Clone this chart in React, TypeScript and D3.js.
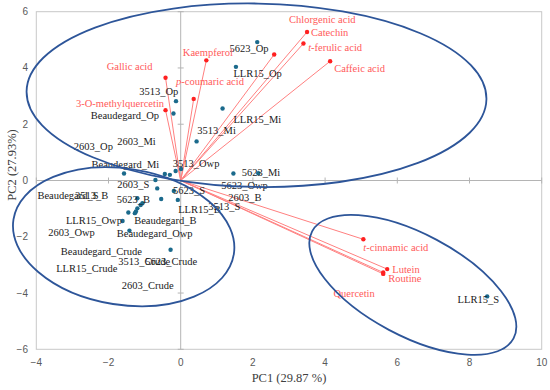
import React from "react";
import * as d3 from "d3";

const W = 550;
const H = 390;

// sample scores (PC1, PC2) and where each label was placed on the chart
const sampleNames = [
  "5623_Op", "LLR15_Op", "LLR15_Mi", "3513_Op", "Beaudegard_Op", "3513_Mi",
  "3513_Owp", "2603_Mi", "2603_Op", "LLR15_Crude", "Beaudegard_Mi", "5623_Mi",
  "5623_Owp", "2603_S", "2603_B", "5623_S", "3513_S", "LLR15_B", "5623_B",
  "Beaudegard_B", "3513_B", "Beaudegard_S", "2603_Owp", "Beaudegard_Crude",
  "3513_Crude", "LLR15_Owp", "Beaudegard_Owp", "5623_Crude", "LLR15_S", "2603_Crude",
];
const sampleX = [
  2.12, 1.53, 1.16, -0.13, -0.2, 0.44, 0.01, -0.14, -0.3, -0.44, -1.57, 1.46,
  2.15, -0.7, -0.65, -0.19, -0.54, -0.08, -1.2, -1.06, -1.11, -1.2, -1.24, -1.27,
  -1.45, -1.61, -1.42, -0.28, 8.49, null,
];
const sampleY = [
  4.92, 4.04, 2.56, 2.82, 2.38, 1.39, 0.41, 0.34, 0.2, 0.23, 0.25, 0.25,
  0.26, 0.02, -0.28, -0.37, -0.66, -0.69, -0.63, -0.81, -0.87, -0.99, -1.1, -1.16,
  -1.14, -1.44, -1.78, -2.46, -4.12, null,
];
const sampleLabelX = [
  1.35, 1.46, 1.46, -1.15, -2.49, 0.46, -0.22, -1.76, -2.96, -3.45, -2.47, 1.69,
  1.12, -1.76, 1.32, -0.21, 0.76, -0.07, -1.77, -1.29, -2.93, -3.97, -3.67, -3.32,
  -1.73, -3.18, -1.77, -0.98, 7.67, -1.63,
];
const sampleLabelY = [
  4.69, 3.82, 2.18, 3.18, 2.32, 1.79, 0.61, 1.41, 1.2, -3.11, 0.56, 0.28,
  -0.18, -0.12, -0.6, -0.36, -0.93, -1.02, -0.66, -1.4, -0.54, -0.54, -1.85, -2.52,
  -2.88, -1.43, -1.87, -2.88, -4.21, -3.71,
];

// phenolic loadings
const loadingNames = [
  "Gallic  acid", "3-O-methylquercetin", "p-coumaric acid", "Kaempferol",
  "Chlorgenic acid", "Catechin", "t-ferulic acid", "Caffeic acid",
  "t-cinnamic acid", "Lutein", "Routine", "Quercetin",
];
const loadingX = [-0.42, -0.42, 0.36, 0.71, 2.59, 3.5, 3.4, 4.14, 5.06, 5.72, 5.61, 5.61];
const loadingY = [3.65, 2.5, 2.9, 4.27, 4.48, 5.28, 4.87, 4.24, -2.09, -3.15, -3.27, -3.32];
const loadingLabelX = [-2.05, -2.9, -0.13, 0.06, 3.0, 3.61, 3.53, 4.25, 5.06, 5.86, 5.75, 4.23];
const loadingLabelY = [4.07, 2.74, 3.53, 4.57, 5.72, 5.26, 4.74, 3.98, -2.37, -3.14, -3.47, -4.0];

// group ellipses: centre, half axes (data units), tilt in degrees
const groupCx = [2.1, -1.58, 6.43];
const groupCy = [3.03, -2.0, -3.71];
const groupRx = [6.37, 3.09, 3.16];
const groupRy = [3.26, 2.42, 1.81];
const groupAngle = [1, 9, 28];

const xTicks = [-4, -2, 0, 2, 4, 6, 8, 10];
const yTicks = [-6, -4, -2, 0, 2, 4, 6];

const fmt = (v: number) => (v < 0 ? "\u2212" + Math.abs(v) : String(v));

function RedLabel({ text, x, y }: { text: string; x: number; y: number }) {
  const italic = /^[tp]-/.test(text);
  return (
    <text x={x} y={y} dy="0.35em" fill="#ff5a5a">
      {italic ? (
        <>
          <tspan fontStyle="italic">{text[0]}</tspan>
          {text.slice(1)}
        </>
      ) : (
        text
      )}
    </text>
  );
}

export default function App() {
  const x = d3.scaleLinear().domain([-4, 10]).range([36.3, 541.7]);
  const y = d3.scaleLinear().domain([-6, 6]).range([349.3, 11.7]);
  const serif = "'Liberation Serif', 'Times New Roman', serif";
  const sans = "'Liberation Sans', Arial, sans-serif";

  return (
    <svg
      width={W}
      height={H}
      style={{ position: "absolute", left: 0, top: 0, background: "#fff" }}
    >
      {/* frame and zero axes */}
      <rect
        x={x(-4)}
        y={y(6)}
        width={x(10) - x(-4)}
        height={y(-6) - y(6)}
        fill="none"
        stroke="#c8c8c8"
      />
      <line x1={x(-4)} x2={x(10)} y1={y(0)} y2={y(0)} stroke="#b4b4b4" />
      <line x1={x(0)} x2={x(0)} y1={y(6)} y2={y(-6)} stroke="#b4b4b4" />
      {yTicks.map((t) => (
        <line key={"yt" + t} x1={x(0) - 3} x2={x(0) + 3} y1={y(t)} y2={y(t)} stroke="#b4b4b4" />
      ))}
      {xTicks.map((t) => (
        <line key={"xt" + t} x1={x(t)} x2={x(t)} y1={y(0) - 3} y2={y(0) + 3} stroke="#b4b4b4" />
      ))}

      {/* tick labels */}
      <g fontFamily={sans} fontSize={10} fill="#595959">
        {xTicks.map((t) => (
          <text key={"xl" + t} x={x(t)} y={y(-6) + 17} textAnchor="middle">
            {fmt(t)}
          </text>
        ))}
        {yTicks.map((t) => (
          <text key={"yl" + t} x={28} y={y(t)} dy="0.35em" textAnchor="end">
            {fmt(t)}
          </text>
        ))}
      </g>

      {/* axis titles */}
      <g fontFamily={serif} fontSize={12.5} fill="#404040">
        <text x={289} y={382} textAnchor="middle">PC1 (29.87 %)</text>
        <text transform="translate(16,165) rotate(-90)" textAnchor="middle">
          PC2 (27.93%)
        </text>
      </g>

      {/* loading vectors */}
      <g>
        {loadingNames.map((n, i) => (
          <line
            key={"v" + n}
            x1={x(0)}
            y1={y(0)}
            x2={x(loadingX[i])}
            y2={y(loadingY[i])}
            stroke="#ff8080"
            strokeWidth={1}
          />
        ))}
        {loadingNames.map((n, i) => (
          <circle key={"vd" + n} cx={x(loadingX[i])} cy={y(loadingY[i])} r={2.2} fill="#ff2020" />
        ))}
      </g>

      {/* sample scores */}
      <g>
        {sampleNames.map((n, i) =>
          sampleX[i] == null ? null : (
            <circle key={"s" + n} cx={x(sampleX[i] as number)} cy={y(sampleY[i] as number)} r={2.2} fill="#1b6a8c" />
          )
        )}
      </g>

      {/* labels */}
      <g fontFamily={serif} fontSize={10.5}>
        {sampleNames.map((n, i) => (
          <text key={"sl" + n} x={x(sampleLabelX[i])} y={y(sampleLabelY[i])} dy="0.35em" fill="#1a1a1a">
            {n}
          </text>
        ))}
        {loadingNames.map((n, i) => (
          <RedLabel key={"ll" + n} text={n} x={x(loadingLabelX[i])} y={y(loadingLabelY[i])} />
        ))}
      </g>

      {/* group ellipses */}
      <g fill="none" stroke="#2d5599" strokeWidth={1.8}>
        {groupCx.map((cx, i) => {
          const px = x(cx);
          const py = y(groupCy[i]);
          return (
            <ellipse
              key={"e" + i}
              cx={px}
              cy={py}
              rx={x(cx + groupRx[i]) - px}
              ry={py - y(groupCy[i] + groupRy[i])}
              transform={`rotate(${groupAngle[i]} ${px} ${py})`}
            />
          );
        })}
      </g>
    </svg>
  );
}
